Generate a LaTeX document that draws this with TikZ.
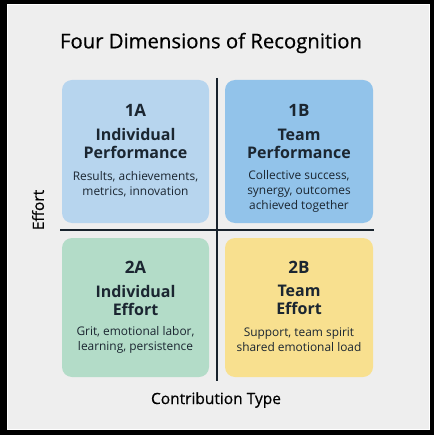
\documentclass[tikz,border=0pt]{standalone}
\usepackage{fontspec}
\setmainfont{Open Sans}
\newfontfamily\medfont[FakeBold=0.5]{Open Sans}
\definecolor{bg}{HTML}{EEEEEE}
\definecolor{ink}{HTML}{1B2631}
\definecolor{cA}{HTML}{B7D5EE}
\definecolor{cB}{HTML}{92C3EA}
\definecolor{cC}{HTML}{B3DCC8}
\definecolor{cD}{HTML}{F8E08F}
\tikzset{
  quad/.style={rounded corners=10pt, draw=none},
  numtxt/.style={font=\fontsize{17}{19}\selectfont\bfseries, text=ink, anchor=center, inner sep=0pt},
  headtxt/.style={font=\fontsize{16}{18}\selectfont\bfseries, text=ink, align=center, anchor=center, inner sep=0pt},
  desctxt/.style={font=\fontsize{11.9}{15}\selectfont, text=ink, align=center, anchor=center, inner sep=0pt},
  axisline/.style={draw=ink!90!black, line width=1.6pt},
  axistxt/.style={font=\medfont\fontsize{15.5}{17}\selectfont, text=black, inner sep=0pt, anchor=center}
}
\begin{document}
\begin{tikzpicture}[x=1pt,y=-1pt]
\useasboundingbox (0,0) rectangle (434,435);
\fill[black] (0,0) rectangle (434,435);
\fill[white] (6.5,4.5) rectangle (430,429.5);
\fill[bg] (7.5,5.5) rectangle (429,428.5);
\node[font=\medfont\fontsize{20.3}{22}\selectfont, text=black, inner sep=0pt] (title) at (211,43) {Four Dimensions of Recognition};
% quadrants
\path[quad, fill=cA] (62,80) rectangle (209,223);
\path[quad, fill=cB] (225,80) rectangle (373,223);
\path[quad, fill=cC] (62,238) rectangle (209,377);
\path[quad, fill=cD] (225,238) rectangle (373,377);
% axes
\coordinate (vtop) at (217,78);
\coordinate (vbot) at (217,381);
\coordinate (hl) at (60,230);
\coordinate (hr) at (374,230);
\draw[axisline] (vtop) -- (vbot);
\draw[axisline] (hl) -- (hr);
% 1A
\node[numtxt] (n1a) at (135.5,110) {1A};
\node[headtxt] (h1a) at (135.5,143.5) {Individual\\Performance};
\node[desctxt] (d1a) at (135.5,184) {Results, achievements,\\metrics, innovation};
% 1B
\node[numtxt] (n1b) at (299,110) {1B};
\node[headtxt] (h1b) at (299,143.5) {Team\\Performance};
\node[desctxt] (d1b) at (299,191.5) {Collective success,\\synergy, outcomes\\achieved together};
% 2A
\node[numtxt] (n2a) at (135.5,267) {2A};
\node[headtxt] (h2a) at (135.5,300) {Individual\\Effort};
\node[desctxt] (d2a) at (135.5,340) {Grit, emotional labor,\\learning, persistence};
% 2B
\node[numtxt] (n2b) at (299,267) {2B};
\node[headtxt] (h2b) at (299,300) {Team\\Effort};
\node[desctxt] (d2b) at (299,340) {Support, team spirit\\shared emotional load};
% axis labels
\node[axistxt, rotate=90] (ylab) at (38,210) {Effort};
\node[axistxt] (xlab) at (216,400) {Contribution Type};
\end{tikzpicture}
\end{document}
